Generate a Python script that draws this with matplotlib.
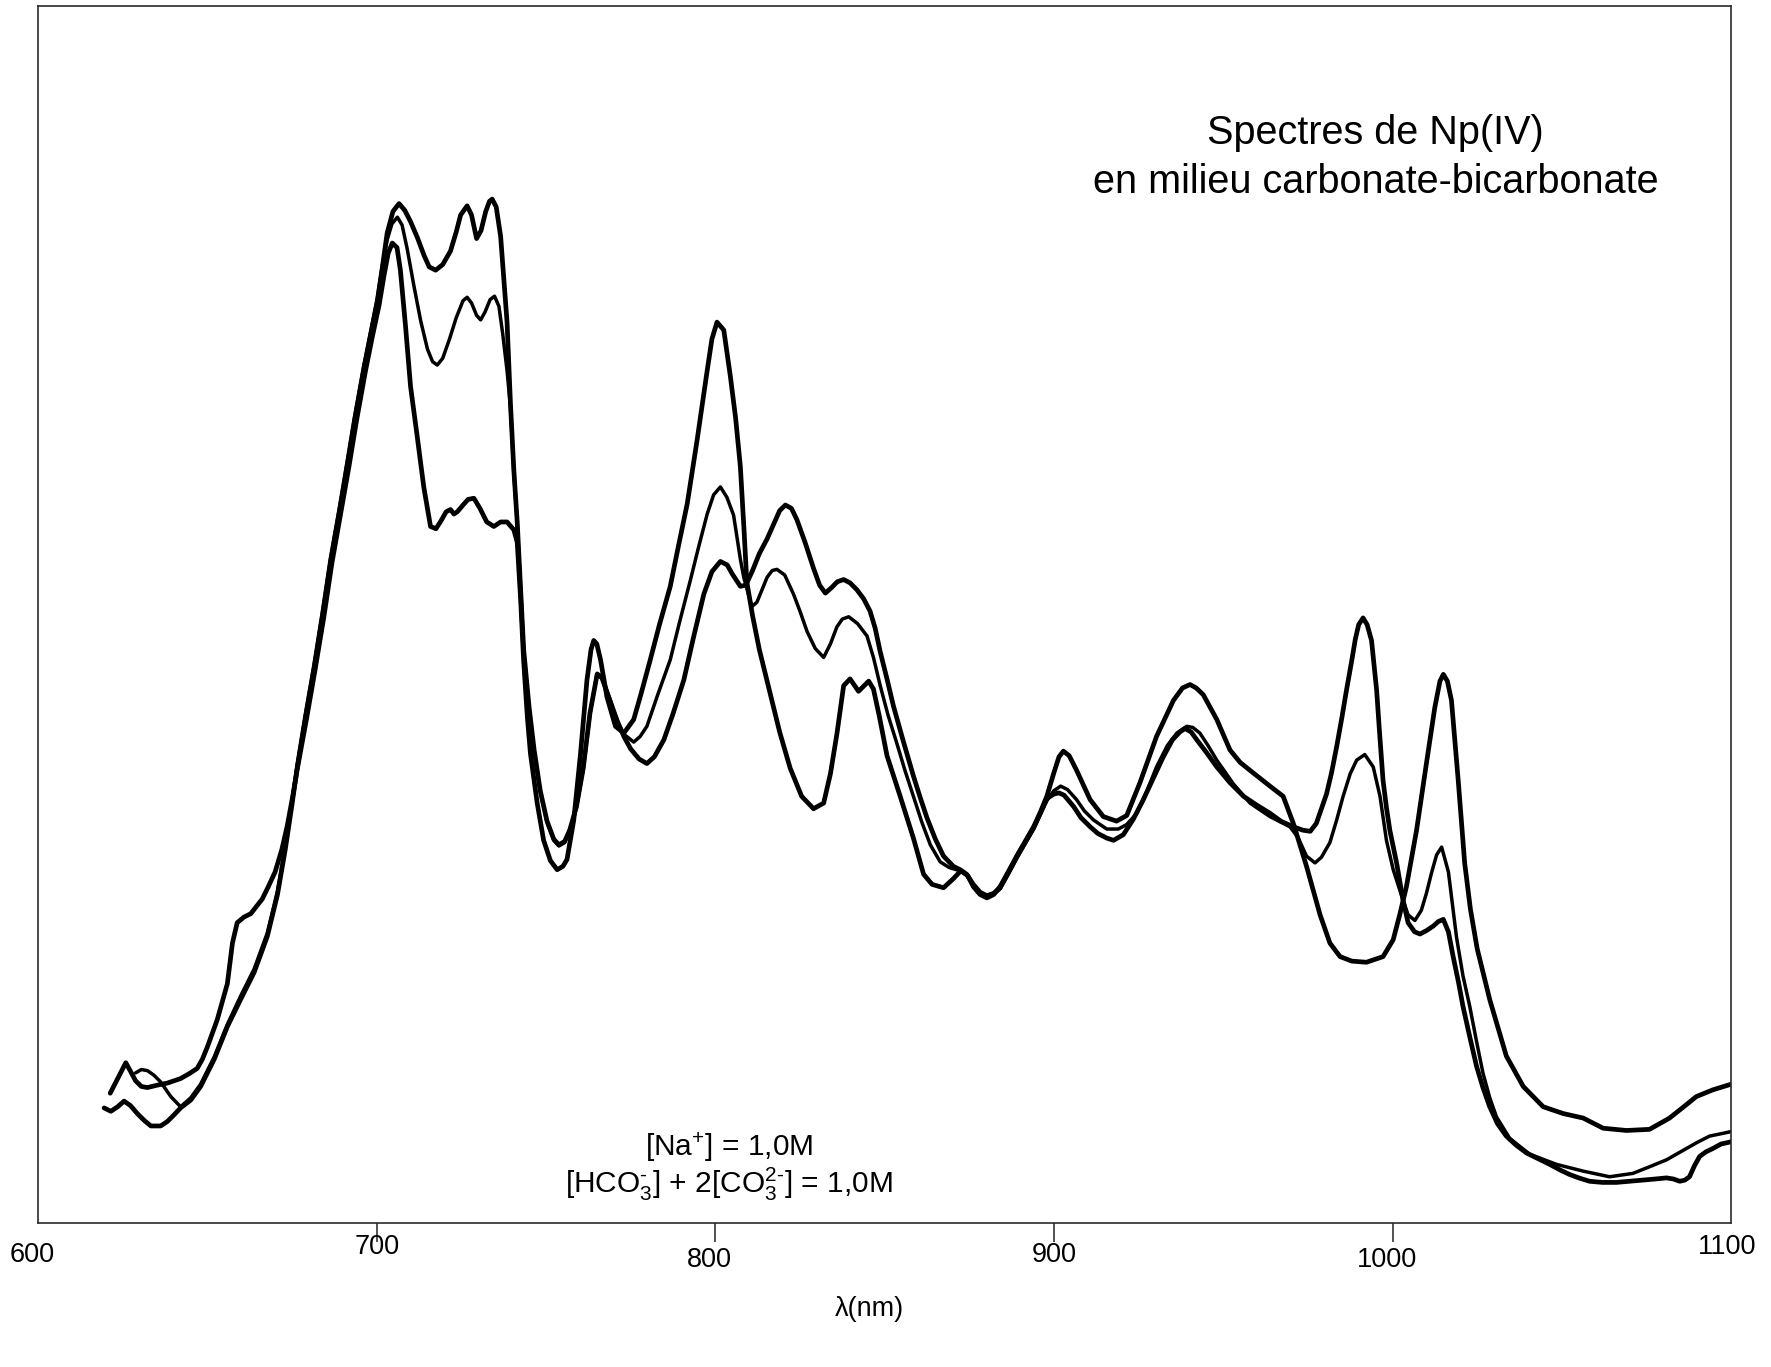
import numpy as np
import matplotlib.pyplot as plt
from matplotlib.transforms import ScaledTranslation

plt.rcParams['font.family'] = ['Liberation Sans', 'DejaVu Sans']
plt.rcParams['mathtext.fontset'] = 'custom'
plt.rcParams['mathtext.rm'] = 'Liberation Sans'
plt.rcParams['mathtext.it'] = 'Liberation Sans:italic'
plt.rcParams['mathtext.bf'] = 'Liberation Sans:bold'

# Np(IV) absorption spectra, (wavelength nm, absorbance a.u.)
spec_a = [
    (619.5, 0.102), (621.5, 0.099), (623.5, 0.103), (625.4, 0.108), (627.3, 0.104),
    (629.3, 0.097), (631.3, 0.091), (633.3, 0.086), (636.2, 0.086), (638.2, 0.090),
    (640.2, 0.096), (642.1, 0.102), (645.1, 0.109), (648.0, 0.121), (652.0, 0.145),
    (655.9, 0.174), (659.8, 0.198), (663.8, 0.222), (667.7, 0.254), (670.7, 0.291),
    (673.0, 0.331), (675.0, 0.371), (676.6, 0.405), (679.0, 0.449), (681.5, 0.492),
    (684.0, 0.539), (686.4, 0.587), (689.0, 0.631), (691.3, 0.672), (693.5, 0.712),
    (696.2, 0.757), (698.2, 0.787), (700.2, 0.817), (701.6, 0.845), (703.1, 0.877),
    (704.8, 0.896), (706.6, 0.903), (708.3, 0.897), (710.0, 0.887), (712.0, 0.873),
    (714.0, 0.857), (715.5, 0.847), (717.4, 0.844), (719.5, 0.849), (721.8, 0.861),
    (723.5, 0.878), (724.8, 0.893), (726.7, 0.901), (728.0, 0.893), (729.5, 0.872),
    (730.8, 0.879), (732.2, 0.896), (733.3, 0.905), (734.1, 0.907), (735.3, 0.900),
    (736.6, 0.874), (737.5, 0.838), (738.5, 0.798), (739.5, 0.726), (740.5, 0.667),
    (741.5, 0.621), (742.5, 0.561), (743.4, 0.508), (745.0, 0.457), (746.5, 0.419),
    (748.3, 0.383), (750.3, 0.356), (752.3, 0.340), (753.8, 0.335), (755.5, 0.338),
    (757.0, 0.348), (759.0, 0.369), (761.0, 0.403), (763.0, 0.452), (765.1, 0.486),
    (766.5, 0.483), (769.0, 0.462), (771.0, 0.445), (773.0, 0.431), (775.0, 0.420),
    (777.5, 0.411), (779.8, 0.407), (782.0, 0.413), (784.8, 0.428), (787.5, 0.451),
    (790.7, 0.481), (793.5, 0.518), (796.6, 0.557), (799.0, 0.577), (801.5, 0.586),
    (803.5, 0.583), (805.0, 0.575), (807.4, 0.564), (809.0, 0.565), (811.0, 0.578),
    (813.0, 0.593), (815.3, 0.606), (817.5, 0.621), (819.0, 0.631), (820.7, 0.636),
    (822.5, 0.633), (824.1, 0.623), (826.5, 0.603), (829.0, 0.580), (830.8, 0.565),
    (832.5, 0.558), (834.4, 0.563), (836.0, 0.568), (837.9, 0.570), (839.8, 0.567),
    (841.8, 0.561), (843.8, 0.553), (845.7, 0.542), (847.2, 0.527), (848.7, 0.506),
    (850.7, 0.482), (852.6, 0.458), (855.5, 0.427), (858.5, 0.396), (860.5, 0.377),
    (862.5, 0.359), (865.0, 0.340), (867.4, 0.325), (870.3, 0.316), (872.3, 0.313),
    (874.2, 0.309), (876.2, 0.300), (878.2, 0.293), (880.2, 0.290), (882.2, 0.292),
    (884.1, 0.297), (886.5, 0.310), (889.0, 0.324), (891.5, 0.337), (894.0, 0.350),
    (896.0, 0.363), (897.9, 0.376), (900.0, 0.380), (901.5, 0.381), (903.0, 0.379),
    (905.8, 0.369), (908.0, 0.359), (910.7, 0.351), (913.0, 0.345), (915.6, 0.341),
    (917.6, 0.339), (920.5, 0.344), (923.5, 0.358), (926.4, 0.375), (929.5, 0.395),
    (932.3, 0.413), (935.0, 0.428), (937.2, 0.435), (938.7, 0.438), (940.5, 0.435),
    (942.2, 0.428), (945.0, 0.417), (948.1, 0.404), (952.0, 0.390), (956.0, 0.378),
    (960.0, 0.370), (963.8, 0.363), (967.0, 0.356), (970.7, 0.351), (973.5, 0.348),
    (975.7, 0.347), (977.5, 0.354), (979.0, 0.367), (980.5, 0.380), (982.0, 0.399),
    (983.5, 0.422), (985.0, 0.447), (986.4, 0.472), (988.0, 0.499), (989.0, 0.517),
    (990.0, 0.530), (991.3, 0.536), (992.5, 0.530), (993.8, 0.516), (995.3, 0.472),
    (996.2, 0.433), (997.2, 0.392), (998.2, 0.368), (999.2, 0.348), (1001.2, 0.319),
    (1003.1, 0.286), (1004.6, 0.266), (1006.5, 0.258), (1008.1, 0.256), (1010.0, 0.259),
    (1012.0, 0.263), (1013.5, 0.267), (1015.0, 0.269), (1016.5, 0.258), (1017.9, 0.236),
    (1019.5, 0.213), (1020.8, 0.192), (1022.8, 0.165), (1024.8, 0.139), (1026.7, 0.120),
    (1028.7, 0.103), (1031.0, 0.088), (1033.6, 0.077), (1036.5, 0.069), (1039.6, 0.062),
    (1043.0, 0.057), (1046.4, 0.052), (1049.5, 0.047), (1052.3, 0.043), (1055.0, 0.040),
    (1058.2, 0.037), (1062.0, 0.036), (1066.1, 0.036), (1070.0, 0.037), (1074.0, 0.038),
    (1077.5, 0.039), (1080.9, 0.040), (1083.0, 0.039), (1084.8, 0.037), (1086.3, 0.038),
    (1087.7, 0.041), (1089.2, 0.051), (1090.7, 0.059), (1092.5, 0.063), (1094.6, 0.066),
    (1097.0, 0.070), (1100.0, 0.072),
]

spec_b = [
    (628.8, 0.133), (630.5, 0.136), (632.3, 0.135), (634.2, 0.131), (636.2, 0.125),
    (639.2, 0.112), (642.1, 0.103), (645.1, 0.111), (648.0, 0.123), (652.0, 0.147),
    (655.9, 0.176), (659.8, 0.201), (663.8, 0.225), (667.7, 0.257), (670.7, 0.294),
    (673.0, 0.334), (675.0, 0.374), (676.6, 0.407), (679.0, 0.451), (681.5, 0.494),
    (684.0, 0.541), (686.4, 0.589), (689.0, 0.633), (691.3, 0.674), (693.5, 0.714),
    (696.2, 0.759), (698.2, 0.789), (700.2, 0.819), (701.6, 0.847), (703.1, 0.871),
    (704.5, 0.885), (706.1, 0.891), (707.5, 0.884), (709.0, 0.863), (711.0, 0.830),
    (713.0, 0.799), (715.0, 0.774), (716.5, 0.763), (717.9, 0.760), (719.5, 0.766),
    (721.5, 0.783), (723.5, 0.802), (725.5, 0.817), (726.7, 0.820), (728.0, 0.815),
    (729.5, 0.804), (730.7, 0.800), (732.0, 0.807), (733.5, 0.818), (734.8, 0.821),
    (736.1, 0.812), (737.2, 0.788), (738.5, 0.755), (739.5, 0.723), (740.5, 0.665),
    (741.5, 0.620), (742.5, 0.560), (743.4, 0.507), (745.0, 0.456), (746.5, 0.418),
    (748.3, 0.382), (750.3, 0.355), (752.3, 0.339), (753.8, 0.334), (755.5, 0.337),
    (757.0, 0.347), (759.0, 0.368), (761.0, 0.402), (763.0, 0.451), (765.1, 0.487),
    (766.5, 0.484), (769.0, 0.463), (771.0, 0.445), (773.0, 0.433), (775.9, 0.426),
    (777.8, 0.431), (779.8, 0.440), (783.0, 0.468), (786.7, 0.499), (789.5, 0.533),
    (792.6, 0.569), (795.0, 0.598), (797.6, 0.628), (799.5, 0.645), (801.5, 0.652),
    (803.4, 0.643), (805.4, 0.627), (807.4, 0.588), (808.4, 0.572), (810.8, 0.546),
    (812.3, 0.550), (813.8, 0.561), (815.3, 0.572), (816.8, 0.578), (818.2, 0.579),
    (820.5, 0.574), (823.1, 0.557), (825.0, 0.542), (827.1, 0.524), (829.5, 0.509),
    (832.0, 0.501), (834.0, 0.513), (835.9, 0.528), (837.5, 0.535), (839.4, 0.537),
    (842.0, 0.531), (844.8, 0.520), (846.7, 0.501), (848.7, 0.476), (851.0, 0.450),
    (853.6, 0.425), (856.0, 0.401), (858.5, 0.378), (861.0, 0.355), (863.5, 0.335),
    (866.4, 0.320), (869.0, 0.315), (872.3, 0.312), (874.2, 0.308), (876.2, 0.299),
    (878.2, 0.292), (880.2, 0.289), (882.2, 0.291), (884.1, 0.296), (886.5, 0.309),
    (889.0, 0.323), (891.5, 0.336), (894.0, 0.349), (896.0, 0.362), (897.9, 0.374),
    (900.0, 0.383), (902.0, 0.387), (904.0, 0.384), (906.7, 0.375), (909.0, 0.365),
    (911.7, 0.357), (915.6, 0.349), (919.0, 0.349), (921.5, 0.353), (924.5, 0.363),
    (927.5, 0.383), (930.3, 0.404), (933.5, 0.423), (936.3, 0.434), (939.2, 0.440),
    (941.0, 0.439), (943.1, 0.434), (945.5, 0.423), (948.1, 0.410), (953.0, 0.389),
    (957.9, 0.372), (963.8, 0.360), (969.7, 0.351), (972.0, 0.342), (974.6, 0.325),
    (977.1, 0.319), (979.0, 0.324), (981.5, 0.337), (983.5, 0.357), (985.4, 0.378),
    (987.5, 0.398), (989.4, 0.410), (991.8, 0.415), (994.3, 0.404), (996.3, 0.378),
    (998.2, 0.339), (1000.2, 0.313), (1003.1, 0.286), (1004.6, 0.273), (1006.6, 0.268),
    (1008.5, 0.277), (1010.0, 0.292), (1011.5, 0.310), (1013.0, 0.326), (1014.5, 0.333),
    (1016.5, 0.311), (1018.9, 0.253), (1020.8, 0.219), (1022.8, 0.192), (1024.8, 0.161),
    (1026.7, 0.133), (1028.7, 0.111), (1030.7, 0.094), (1034.6, 0.075), (1040.5, 0.061),
    (1048.4, 0.052), (1056.3, 0.046), (1064.1, 0.041), (1071.0, 0.044), (1076.0, 0.050),
    (1080.9, 0.056), (1085.0, 0.063), (1089.7, 0.071), (1093.6, 0.077), (1100.0, 0.081),
]

spec_c = [
    (621.3, 0.115), (623.5, 0.128), (625.9, 0.142), (627.2, 0.135), (628.8, 0.126),
    (630.5, 0.121), (632.3, 0.120), (635.0, 0.122), (638.2, 0.124), (642.1, 0.128),
    (645.0, 0.133), (647.0, 0.137), (648.5, 0.145), (650.0, 0.156), (652.9, 0.180),
    (655.9, 0.212), (657.4, 0.248), (658.8, 0.266), (660.8, 0.271), (662.8, 0.274),
    (666.2, 0.287), (668.0, 0.298), (670.0, 0.311), (672.0, 0.331), (673.6, 0.352),
    (675.2, 0.378), (676.6, 0.403), (679.3, 0.447), (681.8, 0.490), (684.4, 0.537),
    (686.8, 0.585), (689.4, 0.629), (691.8, 0.670), (694.0, 0.710), (696.7, 0.755),
    (698.7, 0.785), (700.7, 0.813), (702.2, 0.840), (703.4, 0.859), (704.6, 0.868),
    (706.0, 0.864), (707.0, 0.844), (708.5, 0.795), (710.0, 0.741), (712.0, 0.696),
    (713.9, 0.652), (715.9, 0.617), (717.5, 0.615), (719.0, 0.622), (720.5, 0.630),
    (721.8, 0.632), (722.8, 0.628), (723.8, 0.630), (725.5, 0.636), (727.0, 0.641),
    (728.7, 0.642), (730.5, 0.633), (732.5, 0.621), (734.6, 0.617), (736.6, 0.621),
    (738.5, 0.621), (740.5, 0.614), (741.5, 0.603), (742.5, 0.553), (743.4, 0.498),
    (744.5, 0.448), (745.4, 0.416), (747.4, 0.372), (749.3, 0.339), (751.3, 0.321),
    (753.3, 0.313), (755.0, 0.316), (756.2, 0.322), (758.2, 0.357), (760.2, 0.416),
    (762.1, 0.481), (763.3, 0.508), (764.1, 0.516), (765.0, 0.513), (766.1, 0.499),
    (768.0, 0.466), (770.5, 0.440), (773.0, 0.434), (775.9, 0.446), (778.0, 0.468),
    (780.8, 0.499), (783.5, 0.530), (786.7, 0.564), (789.0, 0.598), (791.7, 0.637),
    (794.6, 0.693), (797.5, 0.753), (799.0, 0.783), (800.5, 0.798), (802.5, 0.791),
    (804.4, 0.751), (806.0, 0.713), (807.4, 0.670), (808.5, 0.613), (809.3, 0.568),
    (811.0, 0.538), (813.0, 0.508), (816.2, 0.469), (819.0, 0.435), (822.1, 0.403),
    (825.5, 0.378), (829.0, 0.367), (832.0, 0.372), (834.0, 0.398), (835.9, 0.433),
    (837.9, 0.476), (839.8, 0.482), (842.3, 0.471), (845.3, 0.480), (846.7, 0.473),
    (848.5, 0.448), (850.7, 0.414), (854.6, 0.378), (858.5, 0.341), (861.5, 0.309),
    (864.0, 0.300), (867.4, 0.297), (870.3, 0.305), (872.5, 0.312), (874.5, 0.308),
    (876.2, 0.298), (878.2, 0.291), (880.2, 0.288), (882.2, 0.291), (884.1, 0.298),
    (886.5, 0.311), (889.0, 0.325), (891.5, 0.338), (894.0, 0.351), (896.0, 0.364),
    (897.9, 0.378), (899.9, 0.398), (901.5, 0.413), (902.8, 0.418), (904.5, 0.414),
    (906.7, 0.401), (910.7, 0.375), (914.6, 0.360), (918.5, 0.356), (921.5, 0.361),
    (925.4, 0.390), (930.3, 0.431), (935.3, 0.463), (938.0, 0.474), (940.2, 0.477),
    (942.0, 0.474), (944.1, 0.468), (948.1, 0.446), (952.0, 0.419), (955.0, 0.408),
    (957.9, 0.401), (963.8, 0.387), (967.7, 0.378), (970.7, 0.354), (974.6, 0.316),
    (978.6, 0.273), (981.5, 0.248), (984.5, 0.236), (988.0, 0.232), (992.3, 0.231),
    (997.2, 0.236), (1000.2, 0.251), (1002.2, 0.274), (1004.1, 0.298), (1007.1, 0.348),
    (1010.0, 0.407), (1012.5, 0.457), (1014.0, 0.480), (1015.0, 0.486), (1016.2, 0.480),
    (1017.4, 0.463), (1019.4, 0.392), (1021.3, 0.319), (1023.0, 0.278), (1025.0, 0.243),
    (1028.7, 0.198), (1033.6, 0.148), (1038.6, 0.121), (1044.5, 0.103), (1050.4, 0.097),
    (1056.3, 0.093), (1062.2, 0.084), (1069.1, 0.082), (1075.9, 0.083), (1081.8, 0.093),
    (1086.0, 0.103), (1089.7, 0.112), (1094.6, 0.118), (1100.0, 0.123),
]

wl_ticks = [600, 700, 800, 900, 1000, 1100]
# the printed tick labels sit a little unevenly (shift in points: dx, dy)
label_shift = [(-4, 0), (0, 6), (-4, -3), (0, 0), (-4, -3), (-3, 6)]
title_lines = ["Spectres de Np(IV)", "en milieu carbonate-bicarbonate"]
conditions = [r"[Na$^{+}$] = 1,0M", "[HCO$_3^{\u2010}$] + 2[CO$_3^{2\u2010}$] = 1,0M"]

fig = plt.figure(figsize=(17.71, 13.67), dpi=100)
ax = fig.add_axes([0.0215, 0.1053, 0.9560, 0.8903])

for spec, lw in ((spec_a, 3.4), (spec_b, 2.5), (spec_c, 3.4)):
    wl, ab = np.array(spec).T
    ax.plot(wl, ab, color="black", lw=lw,
            solid_joinstyle="round", solid_capstyle="round")

ax.set_xlim(600, 1100)
ax.set_ylim(0, 1.078)
ax.set_yticks([])
ax.set_xticks(wl_ticks)
ax.set_xticklabels([str(t) for t in wl_ticks], fontsize=19.5)
ax.tick_params(axis="x", direction="out", length=14, width=1.1,
               pad=0, color="#222222")
ticks = ax.xaxis.get_major_ticks()
# no tick marks at the frame corners
for t in (ticks[0], ticks[-1]):
    t.tick1line.set_visible(False)
for lab, (dx, dy) in zip(ax.get_xticklabels(), label_shift):
    lab.set_transform(lab.get_transform()
                      + ScaledTranslation(dx / 72, dy / 72, fig.dpi_scale_trans))

for sp in ax.spines.values():
    sp.set_linewidth(1.2)
    sp.set_color("#2a2a2a")

ax.set_xlabel("λ(nm)", fontsize=19.5)
ax.xaxis.set_label_coords(0.491, -0.060)

ax.text(995, 0.944, "\n".join(title_lines), ha="center", va="center",
        fontsize=28.5, linespacing=1.38)

ax.text(804, 0.059, conditions[0], ha="center", va="baseline", fontsize=21.5)
ax.text(804, 0.027, conditions[1], ha="center", va="baseline", fontsize=21.5)

fig.savefig("out.png", dpi=100)
